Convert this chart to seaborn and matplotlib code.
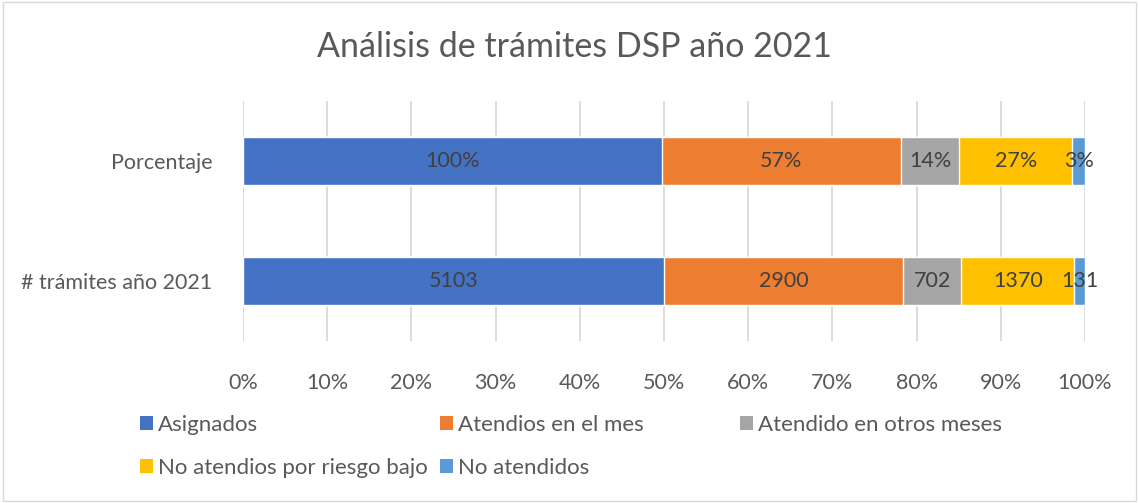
import numpy as np
import pandas as pd
import matplotlib
matplotlib.use('Agg')
import matplotlib.pyplot as plt
from matplotlib.patches import Patch, Rectangle
import seaborn as sns

# Datos
categorias = ['Porcentaje', '# trámites año 2021']
series = ['Asignados', 'Atendios en el mes', 'Atendido en otros meses',
          'No atendios por riesgo bajo', 'No atendidos']
porcentaje = [100, 57, 14, 27, 3]
tramites = [5103, 2900, 702, 1370, 131]
colores = ['#4472C4', '#ED7D31', '#A5A5A5', '#FFC000', '#5B9BD5']

sns.set_theme(style='white')
plt.rcParams['font.family'] = ['Lato', 'DejaVu Sans']
gris = '#595959'

# 100% apilado: cada fila normalizada a su total
filas = {'Porcentaje': np.array(porcentaje, float),
         '# trámites año 2021': np.array(tramites, float)}
etiquetas = {'Porcentaje': [f'{v}%' for v in porcentaje],
             '# trámites año 2021': [str(v) for v in tramites]}
registros = []
for cat in categorias:
    vals = filas[cat]
    share = vals / vals.sum() * 100
    cum = np.cumsum(share)
    for i, s in enumerate(series):
        registros.append({'categoria': cat, 'serie': s, 'share': share[i],
                          'cum': cum[i], 'centro': cum[i] - share[i] / 2,
                          'etiqueta': etiquetas[cat][i]})
df = pd.DataFrame(registros)

fig = plt.figure(figsize=(11.39, 5.03), dpi=100)
ax = fig.add_axes([243 / 1139, 1 - 341 / 503, 842 / 1139, 240 / 503])

# dibujar acumulados de mayor a menor para simular el apilado
for i in reversed(range(len(series))):
    sub = df[df['serie'] == series[i]]
    sns.barplot(data=sub, x='cum', y='categoria', order=categorias, orient='h',
                color=colores[i], saturation=1, width=0.4, ax=ax, zorder=3)

for _, r in df.iterrows():
    ax.text(r['centro'], categorias.index(r['categoria']), r['etiqueta'],
            ha='center', va='center', fontsize=15.5, color='#404040', zorder=5)

ax.set_xlim(0, 100)
ax.set_ylim(1.5, -0.5)
ax.set_xticks(np.arange(0, 101, 10))
ax.set_xticklabels([f'{t}%' for t in range(0, 101, 10)])
ax.xaxis.grid(True, color='#d9d9d9', linewidth=1.3, zorder=0)
ax.set_axisbelow(True)
for sp in ax.spines.values():
    sp.set_visible(False)
ax.tick_params(axis='both', length=0, labelsize=15.5, labelcolor=gris)
ax.tick_params(axis='x', pad=23)
ax.tick_params(axis='y', pad=22)
ax.set_xlabel('')
ax.set_ylabel('')

fig.text(574 / 1139, 1 - 47 / 503, 'Análisis de trámites DSP año 2021',
         ha='center', va='center', fontsize=24.5, color=gris)

# leyenda en rejilla como Excel
pos_leyenda = [(140, 425), (440, 425), (740, 425), (140, 468), (440, 468)]
for i, s in enumerate(series):
    x, y = pos_leyenda[i]
    fig.legend(handles=[Patch(facecolor=colores[i], edgecolor='none')], labels=[s],
               loc='center left', bbox_to_anchor=(x / 1139, 1 - y / 503),
               frameon=False, fontsize=16, labelcolor=gris, handlelength=0.6,
               handleheight=0.6, handletextpad=0.2, borderpad=0, borderaxespad=0)

fig.patches.append(Rectangle((0.003, 0.003), 0.994, 0.994, transform=fig.transFigure,
                             fill=False, edgecolor='#d9d9d9', linewidth=1))

fig.savefig('out.png', dpi=100)
